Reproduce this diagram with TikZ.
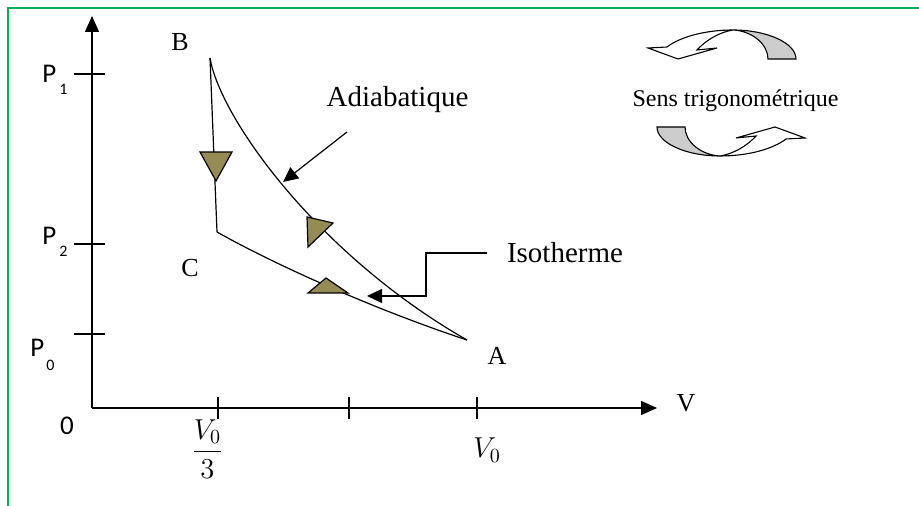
\documentclass[tikz,border=0pt]{standalone}
\usepackage{amsmath}
\usepackage{fontspec}
\setmainfont{Liberation Serif}
\setsansfont{Carlito}
\usetikzlibrary{arrows.meta}
\definecolor{framegreen}{HTML}{00B050}
\definecolor{olive}{HTML}{958B55}
\definecolor{ribbon}{HTML}{CCCCCC}
\newcommand{\sensarrow}{%
  \filldraw[fill=ribbon, draw=black, line width=0.55pt] (796,59) .. controls (796,43) and (767,30) .. (733,30) .. controls (752,31) and (768,44) .. (768,59) -- cycle;
  \filldraw[fill=white, draw=black, line width=0.55pt, line join=miter] (733,30) .. controls (705,30) and (680,37) .. (667,47) -- (648,48) -- (678,59) -- (717,48) -- (697,50) .. controls (706,40) and (720,32) .. (733,30) -- cycle;
}

\begin{document}
\begin{tikzpicture}[x=0.5pt, y=-0.5pt,
    axisline/.style={line width=0.7pt, -{Triangle[length=8pt,width=7pt]}},
    tickmark/.style={line width=0.7pt},
    cycleline/.style={line width=0.6pt},
    leader/.style={line width=0.6pt, -{Triangle[length=7.5pt,width=7pt]}},
    flowmark/.style={fill=olive, draw=black, line width=0.6pt, line join=miter},
    ptlabel/.style={font=\fontsize{13}{15}\selectfont, inner sep=0pt},
    wordlabel/.style={font=\fontsize{14.5}{17}\selectfont, inner sep=0pt},
    plabel/.style={font=\sffamily\fontsize{13.5}{16}\selectfont, inner sep=0pt, anchor=base west},
    vlabel/.style={font=\fontsize{14}{17}\selectfont, inner sep=0pt}]
      \useasboundingbox (0,0) rectangle (919,506);
      \draw[framegreen, line width=0.8pt] (919,8) -- (8,8) -- (8,506);

      % axes
      \coordinate (O) at (92,408);
      \coordinate (ytop) at (92,16);
      \coordinate (xend) at (657,408);
      \draw[axisline] (O) -- (ytop);
      \draw[axisline] (O) -- (xend);
      \draw[tickmark] (74,74) -- (105,74);
      \draw[tickmark] (74,244) -- (105,244);
      \draw[tickmark] (74,334) -- (105,334);
      \draw[tickmark] (218,397) -- (218,419);
      \draw[tickmark] (349,397) -- (349,419);
      \draw[tickmark] (477,397) -- (477,419);
      \node[plabel] (p1) at (42,83) {P\hspace{1.5pt}\raisebox{-6pt}{\fontsize{8}{9}\selectfont 1}};
      \node[plabel] (p2) at (42,245) {P\hspace{1.5pt}\raisebox{-6pt}{\fontsize{8}{9}\selectfont 2}};
      \node[plabel] (p0) at (30,357) {P\hspace{1pt}\raisebox{-7pt}{\fontsize{8}{9}\selectfont 0}};
      \node[plabel, anchor=base] (zero) at (67,435) {0};
      \node[vlabel] (vthird) at (207.5,449) {$\dfrac{V_0}{3}$};
      \node[vlabel, anchor=base west] (vnought) at (473,458) {$V_0$};
      \node[ptlabel, anchor=base] (vaxis) at (686,412) {V};

      % cycle
      \coordinate (B) at (210,58);
      \coordinate (C) at (217,232);
      \coordinate (A) at (467,340);
      \draw[cycleline] (B) -- (C);
      \draw[cycleline] (C) .. controls (270,262) and (370,308) .. (A);
      \draw[cycleline] (B) .. controls (220,118) and (318,255) .. (A);
      \filldraw[flowmark] (200,152) -- (232,152) -- (216,181) -- cycle;
      \filldraw[flowmark] (307,217) -- (333,223) -- (308,247) -- cycle;
      \filldraw[flowmark] (308,293) -- (326,278) -- (348,293) -- cycle;
      \node[ptlabel, anchor=base] (labB) at (180,51) {B};
      \node[ptlabel, anchor=base] (labC) at (190,277) {C};
      \node[ptlabel, anchor=base] (labA) at (497,365) {A};

      % names of the curves
      \node[wordlabel, anchor=base] (adia) at (397.5,107) {Adiabatique};
      \coordinate (adtail) at (347,132);
      \coordinate (adtip) at (283,182);
      \draw[leader] (adtail) -- (adtip);
      \node[wordlabel, anchor=base] (iso) at (565,263) {Isotherme};
      \coordinate (isotail) at (487,253);
      \coordinate (isobend) at (426,296);
      \coordinate (isotip) at (367,296);
      \draw[leader] (isotail) -| (isobend) -- (isotip);

      % sense of rotation
      \sensarrow
      \begin{scope}[rotate around={180:(726.5,93)}]
        \sensarrow
      \end{scope}
      \node[font=\fontsize{12}{14}\selectfont, inner sep=0pt, anchor=base] (sens) at (735.5,107) {Sens trigonométrique};
    \end{tikzpicture}
\end{document}
